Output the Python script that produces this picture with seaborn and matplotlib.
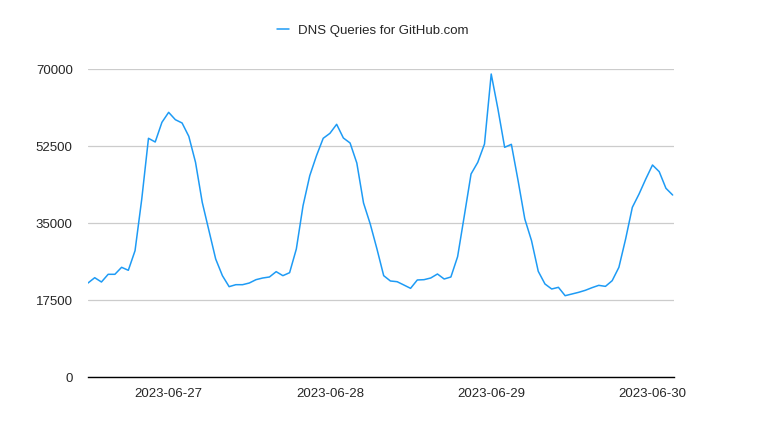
import pandas as pd
import matplotlib.pyplot as plt
import matplotlib.dates as mdates
import seaborn as sns

# Hourly DNS query counts, 2023-06-26 12:00 to 2023-06-30 03:00
start = "2023-06-26 12:00"
queries = [
    21360, 22570, 21590, 23340, 23340, 24930, 24250, 28710, 40450, 54250,
    53410, 57880, 60150, 58480, 57730, 54700, 48790, 39700, 33250, 26820,
    23030, 20530, 20980, 20980, 21360,
    22120, 22500, 22730, 23940, 23030, 23710, 29090, 38940, 45760, 50300,
    54250, 55380, 57430, 54320, 53180, 48640, 39550, 34770, 29090, 23030,
    21820, 21660, 20910, 20150,
    22050, 22120, 22500, 23410, 22270, 22730, 27350, 36670, 46140, 48790,
    52950, 68860, 60910, 52200, 52880, 44620, 35910, 30980, 24020, 21140,
    20000, 20380, 18480,
    18860, 19240, 19700, 20300, 20830, 20600, 21890, 24930, 31360, 38560,
    41590, 45000, 48180, 46670, 42890, 41360,
]
yticks = [0, 17500, 35000, 52500, 70000]
label = "DNS Queries for GitHub.com"

df = pd.DataFrame({
    "time": pd.date_range(start, periods=len(queries), freq="h"),
    "queries": queries,
})

sns.set_style("white")
plt.rcParams["font.family"] = ["Liberation Sans", "DejaVu Sans"]

fig = plt.figure(figsize=(7.68, 4.35), dpi=100)
ax = fig.add_axes([88 / 768, 1 - 378 / 435, (674 - 88) / 768, (378 - 70) / 435])

sns.lineplot(data=df, x="time", y="queries", ax=ax, color="#1e9bf5",
             linewidth=1.1, label=label)

ax.set_xlim(df["time"].iloc[0], df["time"].iloc[-1] + pd.Timedelta(minutes=12))
ax.set_ylim(0, 70000)
ax.set_yticks(yticks)
ax.set_yticklabels([str(v) for v in yticks])
ax.xaxis.set_major_locator(mdates.DayLocator())
ax.xaxis.set_major_formatter(mdates.DateFormatter("%Y-%m-%d"))

ax.grid(axis="y", color="#cccccc", linewidth=0.9)
ax.grid(axis="x", visible=False)
for side in ["top", "right", "left"]:
    ax.spines[side].set_visible(False)
ax.spines["bottom"].set_color("black")
ax.spines["bottom"].set_linewidth(1.0)
ax.tick_params(axis="y", length=0, pad=11, labelsize=9.5)
ax.tick_params(axis="x", length=0, pad=7.5, labelsize=9.5)
ax.set_xlabel("")
ax.set_ylabel("")

ax.legend(loc="center", bbox_to_anchor=(373 / 768, 1 - 31 / 435),
          bbox_transform=fig.transFigure, frameon=False, fontsize=9.5,
          handlelength=0.9, handletextpad=0.7)

plt.savefig("out.png", dpi=100)
